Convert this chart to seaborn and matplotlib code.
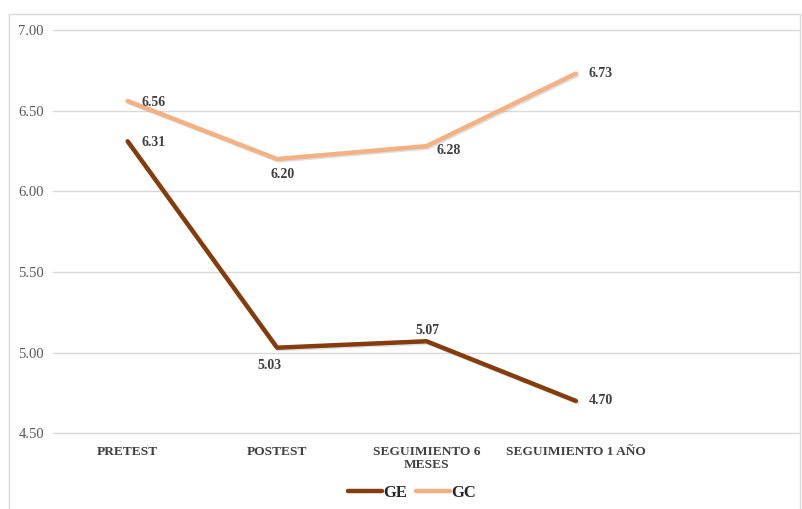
import numpy as np
import pandas as pd
import matplotlib.pyplot as plt
import matplotlib.patches as mpatches
import matplotlib.patheffects as pe
import seaborn as sns

# datos
momentos = ["PRETEST", "POSTEST", "SEGUIMIENTO 6\nMESES", "SEGUIMIENTO 1 AÑO"]
ge = [6.31, 5.03, 5.07, 4.70]
gc = [6.56, 6.20, 6.28, 6.73]
grupos = ["GE", "GC"]
colores = {"GE": "#843C0C", "GC": "#F4B183"}

df = pd.DataFrame({
    "momento": momentos * 2,
    "valor": ge + gc,
    "grupo": ["GE"] * len(ge) + ["GC"] * len(gc),
})

sns.set_style("white")
plt.rcParams['font.family'] = ['Liberation Serif', 'DejaVu Serif']

fig = plt.figure(figsize=(8.02, 5.09), dpi=100)
ax = fig.add_axes([0.066, 0.149, 0.9315, 0.792])

sns.lineplot(data=df, x="momento", y="valor", hue="grupo", hue_order=grupos,
             palette=colores, linewidth=3.2, sort=False, ax=ax, legend=False)
# sombra suave de las líneas
for ln in ax.get_lines():
    ln.set_path_effects([pe.SimpleLineShadow(offset=(1, -1), alpha=0.25, shadow_color="gray"), pe.Normal()])

ax.set_xlim(-0.5, 4.5)
ax.set_ylim(4.5, 7.0)
ax.set_yticks(np.arange(4.5, 7.01, 0.5))
ax.set_yticklabels([f"{v:.2f}" for v in np.arange(4.5, 7.01, 0.5)], color="#595959", fontsize=10.5)
ax.set_xticks(range(len(momentos)))
ax.set_xticklabels(momentos, fontsize=9.6, fontweight="bold", color="#404040", linespacing=1.1)
ax.tick_params(axis="x", length=0, pad=9)
ax.tick_params(axis="y", length=0, pad=6.5)
ax.yaxis.grid(True, color="#d9d9d9", linewidth=1)
for g in ax.get_ygridlines():
    g.set_clip_on(False)
ax.set_xlabel("")
ax.set_ylabel("")
for s in ax.spines.values():
    s.set_visible(False)

# etiquetas de datos (desplazamiento en puntos)
off_ge = [(10, -1), (-14, -13), (-8, 8), (9, 0)]
off_gc = [(10, -1), (-5, -11), (7, -3), (9, 0)]
for serie, offs in ((ge, off_ge), (gc, off_gc)):
    for i, (v, o) in enumerate(zip(serie, offs)):
        ax.annotate(f"{v:.2f}", (i, v), xytext=o, textcoords="offset points",
                    ha="left", va="center", fontsize=10, fontweight="bold", color="#404040")

handles = [plt.Line2D([], [], color=colores[g], linewidth=3.2) for g in grupos]
fig.legend(handles, grupos, loc="center", bbox_to_anchor=(0.514, 0.031), ncol=2, frameon=False,
           handlelength=2.0, handletextpad=0.1, columnspacing=0.55,
           prop={"family": "Liberation Serif", "weight": "bold", "size": 12})

# borde del área del gráfico
fig.patches.append(mpatches.Rectangle((9 / 802, -0.01), 791 / 802, 0.9825, transform=fig.transFigure,
                                      fill=False, edgecolor="#d9d9d9", linewidth=1))

fig.savefig("out.png", dpi=100)
